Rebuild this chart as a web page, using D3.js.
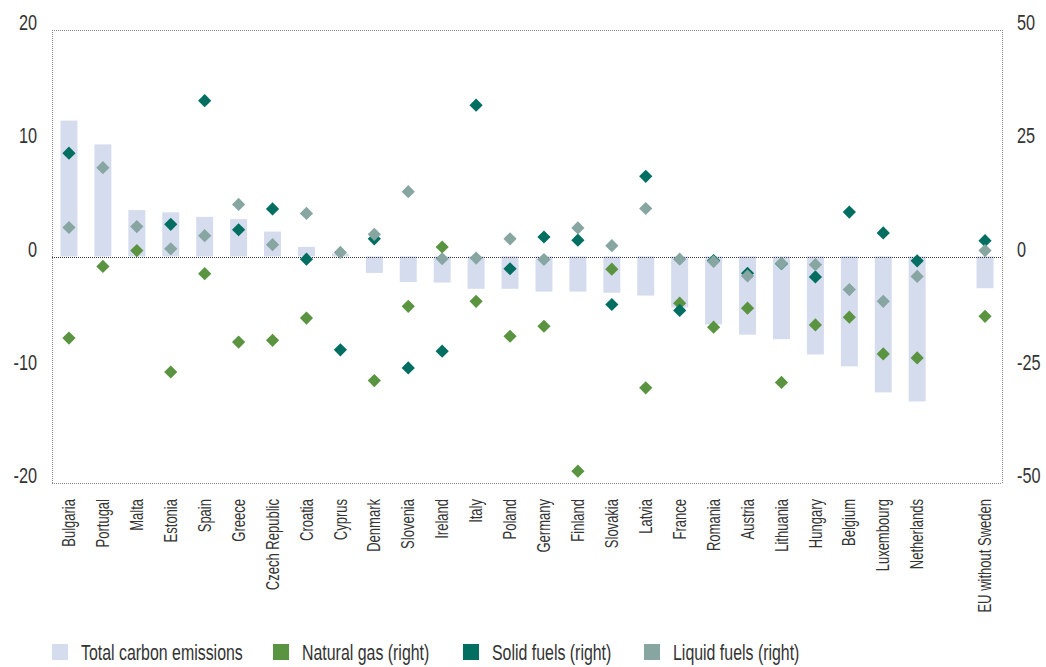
<!DOCTYPE html>
<html>
<head>
<meta charset="utf-8">
<script src="https://cdn.jsdelivr.net/npm/d3@7"></script>
<style>
html,body{margin:0;padding:0;background:#fff;}
svg{display:block;font-family:"Liberation Sans",Arial,sans-serif;}
</style>
</head>
<body>
<svg id="chart" width="1046" height="667"></svg>
<script>
const categories = ["Bulgaria","Portugal","Malta","Estonia","Spain","Greece","Czech Republic","Croatia","Cyprus","Denmark","Slovenia","Ireland","Italy","Poland","Germany","Finland","Slovakia","Latvia","France","Romania","Austria","Lithuania","Hungary","Belgium","Luxembourg","Netherlands","","EU without Sweden"];
const totalEmissions = [12.0,9.9,4.1,3.9,3.5,3.3,2.2,0.85,0.25,-1.45,-2.25,-2.3,-2.85,-2.85,-3.1,-3.1,-3.2,-3.45,-4.5,-6.0,-6.9,-7.3,-8.65,-9.7,-12.0,-12.8,null,-2.8];
const naturalGas = [-18.0,-2.2,1.3,-25.5,-3.8,-18.9,-18.5,-13.6,null,-27.4,-11.0,2.1,-9.9,-17.6,-15.4,-47.4,-2.8,-29.0,-10.3,-15.6,-11.4,-27.8,-15.1,-13.4,-21.5,-22.4,null,-13.2];
const solidFuels = [22.8,null,null,7.1,34.4,5.9,10.5,-0.6,-20.6,3.9,-24.6,-20.9,33.4,-2.7,4.3,3.6,-10.6,17.7,-11.9,-0.9,-3.7,-1.6,-4.5,9.8,5.2,-0.95,null,3.5];
const liquidFuels = [6.4,19.6,6.6,1.7,4.6,11.5,2.6,9.5,0.9,4.9,14.3,-0.5,-0.35,3.9,-0.66,6.3,2.4,10.6,-0.6,-1.1,-4.3,-1.5,-1.8,-7.3,-9.9,-4.4,null,1.3];
const leftTicks = [-20,-10,0,10,20];
const rightTicks = [-50,-25,0,25,50];
const legendLabels = ["Total carbon emissions","Natural gas (right)","Solid fuels (right)","Liquid fuels (right)"];
const colors = {bar:"#d5dcee", gas:"#5a9440", solid:"#006e61", liquid:"#87a6a1"};

const SX = 0.74; // condensed look
const svg = d3.select("#chart");
const m = {left:52, right:1002, top:30, bottom:483};

const x = d3.scaleBand().domain(categories.map((c,i)=>i)).range([m.left,m.right]).paddingInner(0.5).paddingOuter(0.25);
const yL = d3.scaleLinear().domain([-20,20]).range([m.bottom,m.top]);
const yR = d3.scaleLinear().domain([-50,50]).range([m.bottom,m.top]);

// frame
const frame = svg.append("g").attr("fill","none").attr("stroke","#888").attr("stroke-width",1).attr("stroke-dasharray","1,1");
frame.append("line").attr("x1",m.left).attr("x2",m.right).attr("y1",m.top+0.5).attr("y2",m.top+0.5);
frame.append("line").attr("x1",m.left).attr("x2",m.right).attr("y1",m.bottom+0.5).attr("y2",m.bottom+0.5);
frame.append("line").attr("x1",m.left+0.5).attr("x2",m.left+0.5).attr("y1",m.top).attr("y2",m.bottom);
frame.append("line").attr("x1",m.right+0.5).attr("x2",m.right+0.5).attr("y1",m.top).attr("y2",m.bottom);

// bars
svg.append("g").selectAll("rect").data(totalEmissions.map((v,i)=>({v,i})).filter(d=>d.v!==null)).join("rect")
  .attr("x",d=>x(d.i)).attr("width",x.bandwidth())
  .attr("y",d=>yL(Math.max(0,d.v))).attr("height",d=>Math.abs(yL(d.v)-yL(0)))
  .attr("fill",colors.bar);

// zero line
svg.append("line").attr("x1",m.left).attr("x2",m.right).attr("y1",Math.round(yL(0))+0.5).attr("y2",Math.round(yL(0))+0.5)
  .attr("stroke","#333").attr("stroke-width",1).attr("stroke-dasharray","1,1");

// diamonds
const diamond = "M0,-6.6L6.6,0L0,6.6L-6.6,0Z";
function drawSeries(vals,color){
  svg.append("g").selectAll("path").data(vals.map((v,i)=>({v,i})).filter(d=>d.v!==null)).join("path")
    .attr("d",diamond)
    .attr("transform",d=>`translate(${x(d.i)+x.bandwidth()/2},${yR(d.v)})`)
    .attr("fill",color);
}
drawSeries(naturalGas,colors.gas);
drawSeries(solidFuels,colors.solid);
drawSeries(liquidFuels,colors.liquid);

// left axis
const axL = svg.append("g").attr("transform",`translate(${m.left},0)`)
  .call(d3.axisLeft(yL).tickValues(leftTicks).tickSize(0).tickFormat(d=>String(d)));
axL.select(".domain").remove();
axL.selectAll(".tick").attr("transform",d=>`translate(0,${yL(d)})`);
axL.selectAll("text").attr("x",null).attr("dy",null).attr("y",null)
  .attr("font-size",22).attr("fill","#333").attr("font-family","inherit")
  .attr("text-anchor","end")
  .attr("transform",`translate(-15,0) scale(${SX},1)`);

// right axis
const axR = svg.append("g").attr("transform",`translate(${m.right},0)`)
  .call(d3.axisRight(yR).tickValues(rightTicks).tickSize(0).tickFormat(d=>String(d)));
axR.select(".domain").remove();
axR.selectAll(".tick").attr("transform",d=>`translate(0,${yR(d)})`);
axR.selectAll("text").attr("x",null).attr("dy",null).attr("y",null)
  .attr("font-size",22).attr("fill","#333").attr("font-family","inherit")
  .attr("text-anchor","start")
  .attr("transform",`translate(15,0) scale(${SX},1)`);

// category labels
const axB = svg.append("g").attr("transform",`translate(0,${m.bottom})`)
  .call(d3.axisBottom(x).tickSize(0).tickFormat(i=>categories[i]));
axB.select(".domain").remove();
axB.selectAll("text")
  .attr("font-size",17.6).attr("fill","#333").attr("font-family","inherit")
  .attr("text-anchor","end").attr("x",null).attr("y",null).attr("dy","0.35em")
  .attr("transform",`translate(0,16) rotate(-90) scale(${SX},1)`);

// legend
const legendX = [52,273,463,644];
const legendKeys = ["bar","gas","solid","liquid"];
const lg = svg.append("g");
legendLabels.forEach((t,i)=>{
  lg.append("rect").attr("x",legendX[i]).attr("y",644).attr("width",16).attr("height",16).attr("fill",colors[legendKeys[i]]);
  lg.append("text").attr("transform",`translate(${legendX[i]+29},652) scale(${SX},1)`)
    .attr("dy","0.35em").attr("font-size",21.5).attr("fill","#333").text(t);
});
</script>
</body>
</html>
